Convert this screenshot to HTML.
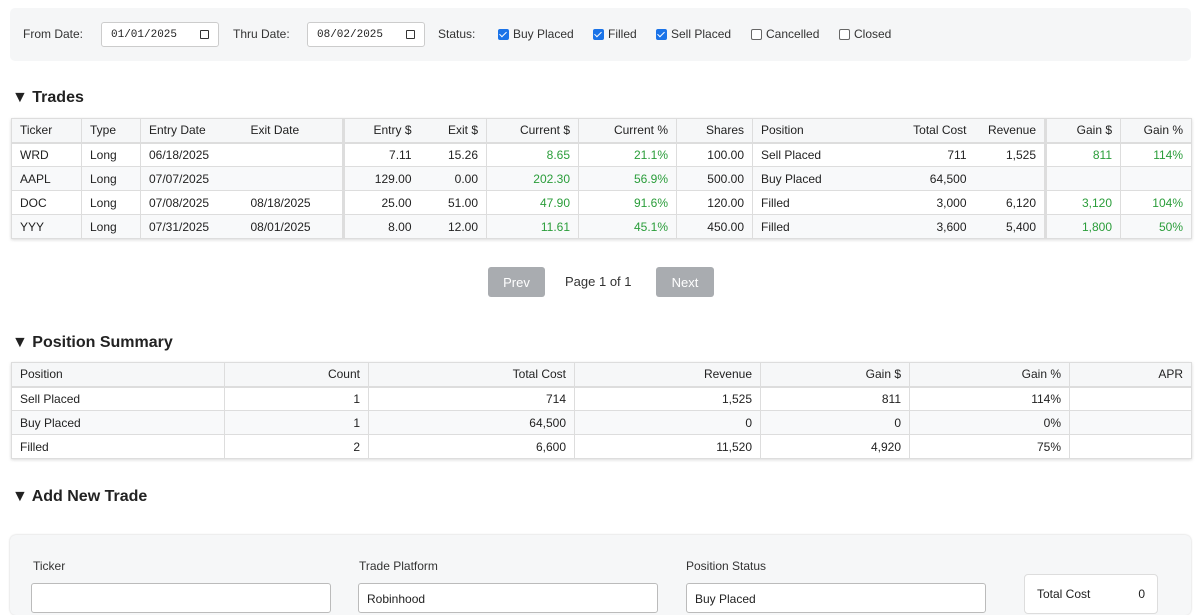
<!DOCTYPE html>
<html><head><meta charset="utf-8"><style>
*{box-sizing:border-box}
body{margin:0;width:1200px;height:600px;overflow:hidden;background:#fff;font-family:"Liberation Sans",sans-serif;font-size:12px;color:#222;position:relative}
.abs{position:absolute}
.filter{left:10px;top:8px;width:1181px;height:53px;background:#f5f6f7;border-radius:5px}
.lbl{top:27px;font-size:12px;color:#333}
.date{top:22px;height:25px;background:#fff;border:1px solid #ccc;border-radius:3px;font-family:"Liberation Mono",monospace;font-size:11px;padding:6px 0 0 9px}
.date i{position:absolute;right:9px;top:7px;width:9px;height:9px;border:1.5px solid #333;border-radius:1px}
.cb{top:29px;width:11px;height:11px;border-radius:2px}
.cb.on{background:#1a73e8}
.cb.off{border:1px solid #666;background:#fff}
.cb.on:after{content:"";position:absolute;left:3px;top:1px;width:3px;height:6px;border:solid #fff;border-width:0 1.5px 1.5px 0;transform:rotate(45deg)}
h2{position:absolute;margin:0;font-size:16px;font-weight:bold;left:12px}
table{position:absolute;border-collapse:collapse;table-layout:fixed;font-size:12px;box-shadow:0 1px 3px rgba(0,0,0,.15)}
td,th{border:1px solid #ddd;height:24px;padding:0 8px;white-space:nowrap;overflow:hidden;font-weight:normal}
th{background:#f6f7f8;text-align:left;border-bottom:2px solid #ddd}
tr:nth-child(odd):not(:first-child) td{background:#f8f9fa}
.r{text-align:right}.g{color:#2a9d3a}
.tk{border-right:3px solid #ddd}
.nb{border-left:0;border-right:0}
.btn{top:267px;height:30px;background:#a9acb0;color:#fff;border-radius:3px;font-size:13px;text-align:center;padding-top:8px}
.form{left:10px;top:535px;width:1181px;height:80px;background:#f6f7f8;border-radius:6px;box-shadow:0 0 2px rgba(0,0,0,.2)}
.fl{top:559px;font-size:12px;color:#333}
.fi{top:583px;height:30px;width:300px;background:#fff;border:1px solid #bbb;border-radius:3px}
</style></head><body>
<div class="abs filter"></div>
<div class="abs lbl" style="left:23px">From Date:</div>
<div class="abs date" style="left:101px;width:118px">01/01/2025<i></i></div>
<div class="abs lbl" style="left:233px">Thru Date:</div>
<div class="abs date" style="left:307px;width:118px">08/02/2025<i></i></div>
<div class="abs lbl" style="left:438px">Status:</div>
<div class="abs cb on" style="left:498px"></div><div class="abs lbl" style="left:513px">Buy Placed</div>
<div class="abs cb on" style="left:593px"></div><div class="abs lbl" style="left:608px">Filled</div>
<div class="abs cb on" style="left:656px"></div><div class="abs lbl" style="left:671px">Sell Placed</div>
<div class="abs cb off" style="left:751px"></div><div class="abs lbl" style="left:766px">Cancelled</div>
<div class="abs cb off" style="left:839px"></div><div class="abs lbl" style="left:854px">Closed</div>

<h2 style="top:89px">▼ Trades</h2>
<table style="left:11px;top:118px;width:1180px">
<colgroup><col style="width:70px"><col style="width:59px"><col style="width:102px"><col style="width:101px"><col style="width:76px"><col style="width:67px"><col style="width:92px"><col style="width:98px"><col style="width:76px"><col style="width:134px"><col style="width:88px"><col style="width:71px"><col style="width:75px"><col style="width:71px"></colgroup>
<tr><th>Ticker</th><th>Type</th><th style="border-right:0">Entry Date</th><th class="tk" style="border-left:0">Exit Date</th><th class="r" style="border-right:0">Entry $</th><th class="r" style="border-left:0">Exit $</th><th class="r">Current $</th><th class="r">Current %</th><th class="r">Shares</th><th style="border-right:0">Position</th><th class="r nb">Total Cost</th><th class="r tk" style="border-left:0">Revenue</th><th class="r">Gain $</th><th class="r">Gain %</th></tr>
<tr><td>WRD</td><td>Long</td><td style="border-right:0">06/18/2025</td><td class="tk" style="border-left:0"></td><td class="r" style="border-right:0">7.11</td><td class="r" style="border-left:0">15.26</td><td class="r g">8.65</td><td class="r g">21.1%</td><td class="r">100.00</td><td style="border-right:0">Sell Placed</td><td class="r nb">711</td><td class="r tk" style="border-left:0">1,525</td><td class="r g">811</td><td class="r g">114%</td></tr>
<tr><td>AAPL</td><td>Long</td><td style="border-right:0">07/07/2025</td><td class="tk" style="border-left:0"></td><td class="r" style="border-right:0">129.00</td><td class="r" style="border-left:0">0.00</td><td class="r g">202.30</td><td class="r g">56.9%</td><td class="r">500.00</td><td style="border-right:0">Buy Placed</td><td class="r nb">64,500</td><td class="r tk" style="border-left:0"></td><td class="r"></td><td class="r"></td></tr>
<tr><td>DOC</td><td>Long</td><td style="border-right:0">07/08/2025</td><td class="tk" style="border-left:0">08/18/2025</td><td class="r" style="border-right:0">25.00</td><td class="r" style="border-left:0">51.00</td><td class="r g">47.90</td><td class="r g">91.6%</td><td class="r">120.00</td><td style="border-right:0">Filled</td><td class="r nb">3,000</td><td class="r tk" style="border-left:0">6,120</td><td class="r g">3,120</td><td class="r g">104%</td></tr>
<tr><td>YYY</td><td>Long</td><td style="border-right:0">07/31/2025</td><td class="tk" style="border-left:0">08/01/2025</td><td class="r" style="border-right:0">8.00</td><td class="r" style="border-left:0">12.00</td><td class="r g">11.61</td><td class="r g">45.1%</td><td class="r">450.00</td><td style="border-right:0">Filled</td><td class="r nb">3,600</td><td class="r tk" style="border-left:0">5,400</td><td class="r g">1,800</td><td class="r g">50%</td></tr>
</table>

<div class="abs btn" style="left:488px;width:57px">Prev</div>
<div class="abs" style="left:565px;top:274px;font-size:13px;color:#333">Page 1 of 1</div>
<div class="abs btn" style="left:656px;width:58px">Next</div>

<h2 style="top:334px">▼ Position Summary</h2>
<table style="left:11px;top:362px;width:1180px">
<colgroup><col style="width:213px"><col style="width:144px"><col style="width:206px"><col style="width:186px"><col style="width:149px"><col style="width:160px"><col style="width:122px"></colgroup>
<tr><th>Position</th><th class="r">Count</th><th class="r">Total Cost</th><th class="r">Revenue</th><th class="r">Gain $</th><th class="r">Gain %</th><th class="r">APR</th></tr>
<tr><td>Sell Placed</td><td class="r">1</td><td class="r">714</td><td class="r">1,525</td><td class="r">811</td><td class="r">114%</td><td></td></tr>
<tr><td>Buy Placed</td><td class="r">1</td><td class="r">64,500</td><td class="r">0</td><td class="r">0</td><td class="r">0%</td><td></td></tr>
<tr><td>Filled</td><td class="r">2</td><td class="r">6,600</td><td class="r">11,520</td><td class="r">4,920</td><td class="r">75%</td><td></td></tr>
</table>

<h2 style="top:488px">▼ Add New Trade</h2>
<div class="abs form"></div>
<div class="abs fl" style="left:33px">Ticker</div>
<div class="abs fl" style="left:359px">Trade Platform</div>
<div class="abs fl" style="left:686px">Position Status</div>
<div class="abs fi" style="left:31px"></div>
<div class="abs fi" style="left:358px;padding:8px"><span style="font-size:12px">Robinhood</span></div>
<div class="abs fi" style="left:686px;padding:8px"><span style="font-size:12px">Buy Placed</span></div>
<div class="abs" style="left:1024px;top:574px;width:134px;height:40px;background:#fff;border:1px solid #ddd;border-radius:4px;padding:12px 12px;font-size:12px">Total Cost<span style="float:right">0</span></div>
</body></html>
